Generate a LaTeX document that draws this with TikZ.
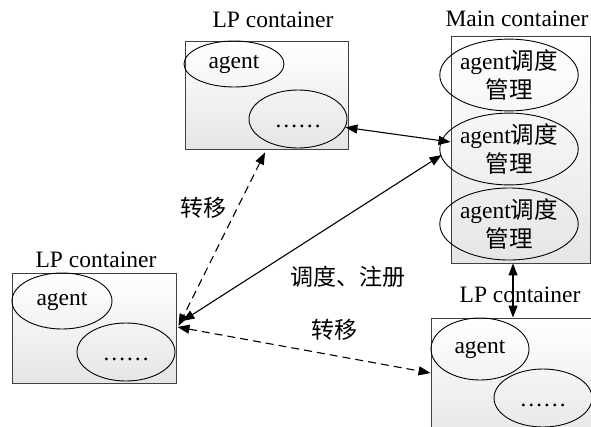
\documentclass[tikz,border=0pt]{standalone}
\usepackage{fontspec}
\setmainfont{Liberation Serif}
\newfontfamily\cjk{Noto Sans CJK SC}
\usetikzlibrary{arrows.meta,shapes.geometric,calc}
\begin{document}
\begin{tikzpicture}[x=1pt,y=-1pt,
 box/.style={draw=black!75, line width=0.9pt, top color=white, bottom color=black!10, inner sep=0pt},
 ell/.style={draw, ellipse, line width=0.9pt, inner sep=0pt, font=\fontsize{23.5}{29}\selectfont, align=center},
 dots/.style={ell, text height=16pt, text depth=0pt},
 lbl/.style={font=\fontsize{23.5}{26}\selectfont, inner sep=0pt},
 clbl/.style={font=\fontsize{23}{26}\selectfont\cjk, inner sep=0pt},
 conn/.style={line width=1.1pt, {Triangle[length=12pt,width=9pt]}-{Triangle[length=12pt,width=9pt]}},
 dconn/.style={conn, dash pattern=on 8pt off 5pt}]
\useasboundingbox (0,0) rectangle (591,426);
\clip (0,0) rectangle (591,426);
\fill[white] (0,0) rectangle (591,426);

% top LP container
\node[box, minimum width=163pt, minimum height=108pt] (topbox) at (266.5,95) {};
\node[lbl] (toplbl) at (273,20) {LP container};
\node[ell, minimum width=100pt, minimum height=46pt] (ta) at (234,64) {agent};
\node[dots, minimum width=98pt, minimum height=58pt] (td) at (298,119) {……};

% Main container
\node[box, minimum width=139pt, minimum height=227pt] (mainbox) at (520.5,149.5) {};
\node[lbl] (mainlbl) at (517,19) {Main container};
\node[ell, minimum width=116pt, minimum height=70pt] (m1) at (509,75) {agent{\cjk 调度}\\{\cjk 管理}};
\node[ell, minimum width=116pt, minimum height=70pt] (m2) at (509,149) {agent{\cjk 调度}\\{\cjk 管理}};
\node[ell, minimum width=116pt, minimum height=72pt] (m3) at (509,224) {agent{\cjk 调度}\\{\cjk 管理}};

% bottom-left LP container
\node[box, minimum width=164pt, minimum height=110pt] (blbox) at (94,328) {};
\node[lbl] (bllbl) at (96,260) {LP container};
\node[ell, minimum width=100pt, minimum height=56pt] (ba) at (62,301) {agent};
\node[dots, minimum width=98pt, minimum height=58pt] (bd) at (126,352) {……};

% bottom-right LP container
\node[box, minimum width=179pt, minimum height=127pt] (brbox) at (520.5,381.5) {};
\node[lbl] (brlbl) at (520,295) {LP container};
\node[ell, minimum width=98pt, minimum height=62pt] (bra) at (480,349) {agent};
\node[dots, minimum width=98pt, minimum height=58pt] (brd) at (543,398) {……};

% connectors
\draw[conn] (td.-10) -- ($(mainbox.west)+(0,-7.5)$);
\draw[conn] ($(mainbox.west)+(-9,5.5)$) -- ($(blbox.east)+(6,-7)$);
\draw[dconn] ($(topbox.south)+(-1.5,3)$) -- ($(blbox.east)+(2,-2)$);
\draw[dconn] ($(blbox.east)+(1,-1)$) -- ($(brbox.west)+(0,-8.5)$);
\draw[conn] ($(mainbox.south)+(-7.5,0)$) -- ($(brbox.north)+(-7.5,0)$);

% labels
\node[clbl] (l1) at (203,208) {转移};
\node[clbl] (l2) at (348,277) {调度、注册};
\node[clbl] (l3) at (334,330) {转移};
\end{tikzpicture}
\end{document}
